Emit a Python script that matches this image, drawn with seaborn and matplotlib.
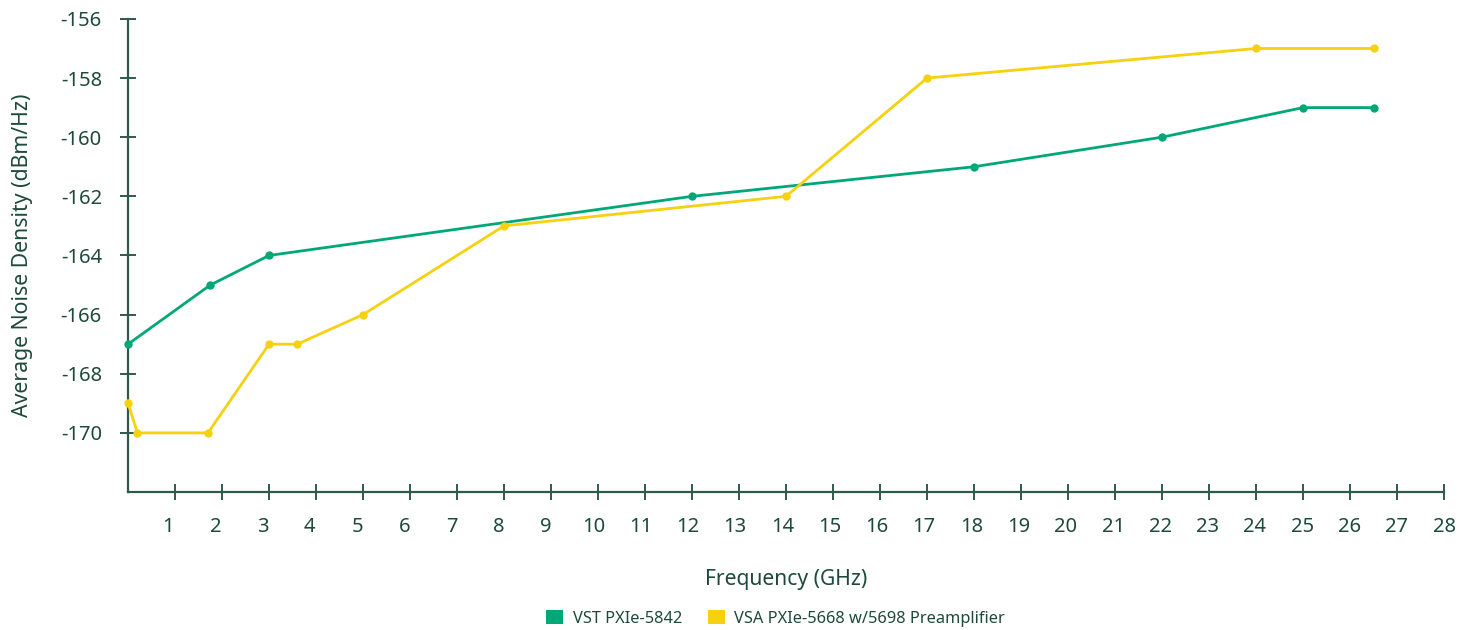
"""
Average noise density vs frequency: VST PXIe-5842 vs VSA PXIe-5668 w/5698
"""
import pandas as pd
import numpy as np
import matplotlib
matplotlib.use('Agg')
import matplotlib.pyplot as plt
import seaborn as sns
from matplotlib.patches import Patch
from matplotlib.transforms import ScaledTranslation

sns.set_style('white')
plt.rcParams['font.family'] = ['Noto Sans', 'DejaVu Sans']

TEXT = '#1d4a3b'
AXIS = '#2f5a4b'
GREEN = '#00a878'
YELLOW = '#f5d110'

# data
vst_freq = [0, 1.75, 3, 12, 18, 22, 25, 26.5]
vst_noise = [-167, -165, -164, -162, -161, -160, -159, -159]
vsa_freq = [0, 0.2, 1.7, 3, 3.6, 5, 8, 14, 17, 24, 26.5]
vsa_noise = [-169, -170, -170, -167, -167, -166, -163, -162, -158, -157, -157]

series_names = ['VST PXIe-5842', 'VSA PXIe-5668 w/5698 Preamplifier']
x_ticks = list(range(1, 29))
y_ticks = [-170, -168, -166, -164, -162, -160, -158, -156]

df = pd.concat([
    pd.DataFrame({'freq': vst_freq, 'noise': vst_noise, 'series': series_names[0]}),
    pd.DataFrame({'freq': vsa_freq, 'noise': vsa_noise, 'series': series_names[1]}),
])
palette = {series_names[0]: GREEN, series_names[1]: YELLOW}

fig = plt.figure(figsize=(14.75, 6.3), dpi=100)
ax = fig.add_axes([0.0868, 0.219, 0.8922, 0.751])

sns.lineplot(data=df, x='freq', y='noise', hue='series', palette=palette,
             marker='o', markersize=6, markeredgewidth=0, linewidth=2,
             sort=False, legend=False, clip_on=False, zorder=3, ax=ax)

ax.set_xlim(0, 28)
ax.set_ylim(-172, -156)
ax.set_xticks(x_ticks)
ax.set_yticks(y_ticks)
ax.set_xticklabels([str(t) for t in x_ticks])
ax.set_yticklabels([str(t) for t in y_ticks])

for side in ['top', 'right']:
    ax.spines[side].set_visible(False)
for side in ['left', 'bottom']:
    ax.spines[side].set_color(AXIS)
    ax.spines[side].set_linewidth(1.6)

ax.tick_params(axis='both', direction='inout', length=11.5, width=1.4, color=AXIS,
               labelcolor=TEXT, labelsize=14.5, bottom=True, left=True)
ax.tick_params(axis='x', pad=12)
ax.tick_params(axis='y', pad=13)

# in the original the low x labels drift a few px left of their ticks
for t, lab in zip(x_ticks, ax.get_xticklabels()):
    dx = -7 * (28 - t) / 27
    lab.set_transform(lab.get_transform() + ScaledTranslation(dx / 100, 0, fig.dpi_scale_trans))

ax.set_xlabel('Frequency (GHz)', fontsize=15.2, color=TEXT, labelpad=23)
ax.set_ylabel('Average Noise Density (dBm/Hz)', fontsize=15.3, color=TEXT, labelpad=20)
ax.grid(False)

handles = [Patch(facecolor=palette[n], edgecolor='none') for n in series_names]
fig.legend(handles, series_names, loc='center', bbox_to_anchor=(0.526, 0.019),
           ncol=2, frameon=False, fontsize=11.8, labelcolor=TEXT,
           handlelength=1.0, handleheight=1.0, handletextpad=0.6, columnspacing=1.6)

fig.savefig('out.png', dpi=100)
plt.close(fig)
